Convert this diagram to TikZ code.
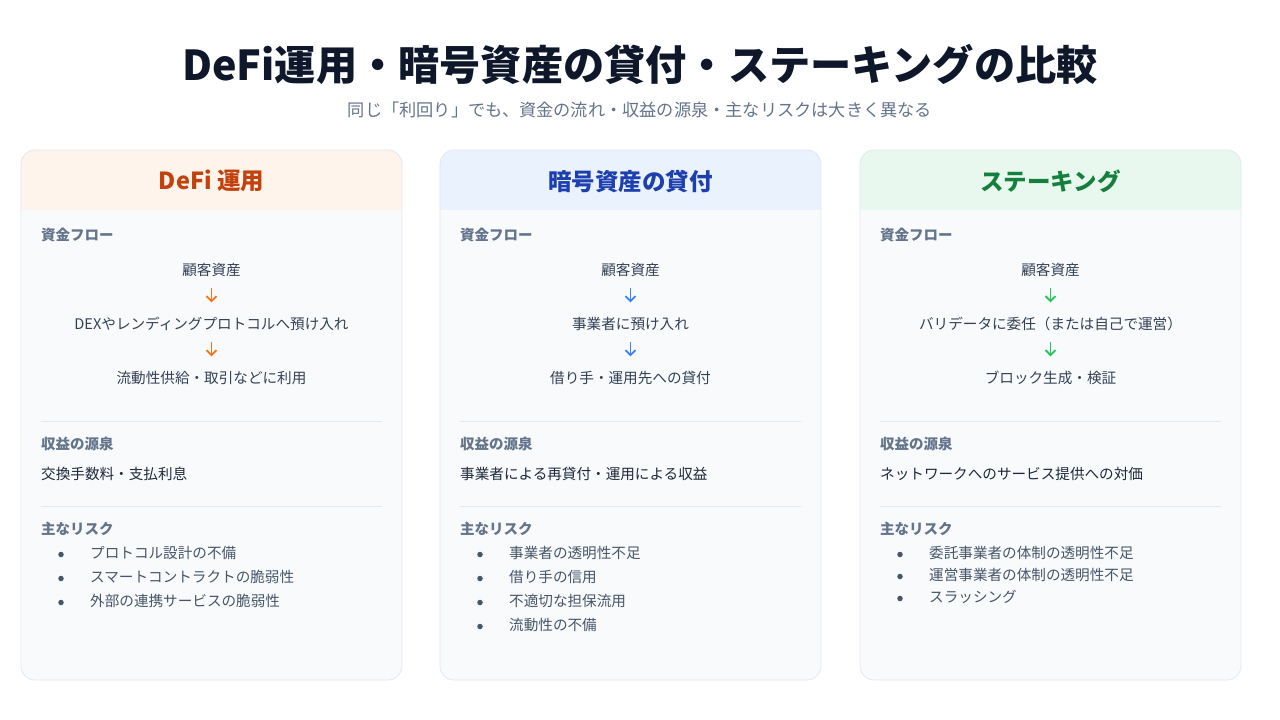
\documentclass[tikz,border=0pt]{standalone}
\usepackage{fontspec}
\setmainfont{Noto Sans CJK JP}
\usetikzlibrary{arrows.meta}
\definecolor{titlec}{HTML}{0F172A}
\definecolor{subc}{HTML}{64748B}
\definecolor{labelc}{HTML}{64748B}
\definecolor{flowc}{HTML}{334155}
\definecolor{revc}{HTML}{1E293B}
\definecolor{riskc}{HTML}{475569}
\definecolor{cardfill}{HTML}{F8FAFC}
\definecolor{cardline}{HTML}{E2E8F0}
\definecolor{headO}{HTML}{FFF4EB}
\definecolor{headB}{HTML}{EAF2FD}
\definecolor{headG}{HTML}{E9F8EE}
\definecolor{titO}{HTML}{C2410C}
\definecolor{titB}{HTML}{1E40AF}
\definecolor{titG}{HTML}{15803D}
\definecolor{arrO}{HTML}{F97316}
\definecolor{arrB}{HTML}{3B82F6}
\definecolor{arrG}{HTML}{22C55E}
\tikzset{
  cardbox/.style={draw=cardline, line width=0.8pt, rounded corners=14pt},
  sepline/.style={draw=cardline, line width=0.8pt},
  headtitle/.style={anchor=center, inner sep=0, yshift=-1pt, font=\fontsize{23.5}{28}\selectfont\bfseries},
  seclabel/.style={anchor=west, inner sep=0, yshift=-1.5pt, text=labelc, font=\fontsize{14.5}{17}\selectfont\bfseries, text height=11pt, text depth=3pt},
  flowtext/.style={anchor=center, inner sep=0, yshift=-1.5pt, text=flowc, font=\fontsize{14.6}{17}\selectfont, text height=11pt, text depth=3pt},
  revtext/.style={anchor=west, inner sep=0, yshift=-1.5pt, text=revc, font=\fontsize{14.6}{17}\selectfont, text height=11pt, text depth=3pt},
  risktext/.style={anchor=west, inner sep=0, yshift=-1.5pt, text=riskc, font=\fontsize{14.6}{17}\selectfont, text height=11pt, text depth=3pt},
  bulletdot/.style={circle, fill=riskc, inner sep=0, minimum size=5.5pt},
  flowarrow/.style={-{Straight Barb[length=5pt,width=10pt]}, line width=1.8pt, shorten <=9pt, shorten >=16pt},
}
% #1 prefix, #2 x0, #3 head fill, #4 title colour, #5 arrow colour, #6 title,
% #7 flow1, #8 flow2, #9 flow3
\newcommand\mkcard[9]{%
  \begin{scope}
    \clip[rounded corners=14pt] (#2,150) rectangle ++(381,530);
    \fill[cardfill] (#2,150) rectangle ++(381,530);
    \fill[#3] (#2,150) rectangle ++(381,60);
  \end{scope}
  \draw[cardbox] (#2,150) rectangle ++(381,530);
  \node[headtitle, text=#4] (#1head) at (#2+190.5,180) {#6};
  \node[seclabel] (#1lab1) at (#2+20,235) {資金フロー};
  \node[flowtext] (#1f1) at (#2+190.5,270) {#7};
  \node[flowtext] (#1f2) at (#2+190.5,324) {#8};
  \node[flowtext] (#1f3) at (#2+190.5,378) {#9};
  \draw[flowarrow, draw=#5] (#1f1) -- (#1f2);
  \draw[flowarrow, draw=#5] (#1f2) -- (#1f3);
  \draw[sepline] (#2+20,421) -- (#2+361,421);
  \node[seclabel] (#1lab2) at (#2+20,444) {収益の源泉};
  \draw[sepline] (#2+20,506) -- (#2+361,506);
  \node[seclabel] (#1lab3) at (#2+20,529) {主なリスク};
}
% #1 prefix, #2 x0, #3 y, #4 index, #5 text
\newcommand\mkrisk[5]{%
  \node[bulletdot] (#1b#4) at (#2+40,#3+1.5) {};
  \node[risktext] (#1r#4) at (#2+69,#3) {#5};
}
\begin{document}
\begin{tikzpicture}[x=1pt,y=-1pt]
  \useasboundingbox (0,0) rectangle (1280,720);
  \fill[white] (0,0) rectangle (1280,720);
  \node[anchor=center, inner sep=0, text=titlec, font=\fontsize{41.2}{48}\selectfont\bfseries] (title) at (640,64) {DeFi運用・暗号資産の貸付・ステーキングの比較};
  \node[anchor=center, inner sep=0, text=subc, font=\fontsize{17.2}{20}\selectfont] (subtitle) at (640,110) {同じ「利回り」でも、資金の流れ・収益の源泉・主なリスクは大きく異なる};

  % Card 1
  \mkcard{a}{21}{headO}{titO}{arrO}{DeFi 運用}{顧客資産}{DEXやレンディングプロトコルへ預け入れ}{流動性供給・取引などに利用}
  \node[revtext] (arev) at (41,474) {交換手数料・支払利息};
  \mkrisk{a}{21}{553}{1}{プロトコル設計の不備}
  \mkrisk{a}{21}{577}{2}{スマートコントラクトの脆弱性}
  \mkrisk{a}{21}{601}{3}{外部の連携サービスの脆弱性}

  % Card 2
  \mkcard{b}{440}{headB}{titB}{arrB}{暗号資産の貸付}{顧客資産}{事業者に預け入れ}{借り手・運用先への貸付}
  \node[revtext] (brev) at (460,474) {事業者による再貸付・運用による収益};
  \mkrisk{b}{440}{553}{1}{事業者の透明性不足}
  \mkrisk{b}{440}{577}{2}{借り手の信用}
  \mkrisk{b}{440}{601}{3}{不適切な担保流用}
  \mkrisk{b}{440}{625}{4}{流動性の不備}

  % Card 3
  \mkcard{c}{860}{headG}{titG}{arrG}{ステーキング}{顧客資産}{バリデータに委任（または自己で運営）}{ブロック生成・検証}
  \node[revtext] (crev) at (880,474) {ネットワークへのサービス提供への対価};
  \mkrisk{c}{860}{553}{1}{委託事業者の体制の透明性不足}
  \mkrisk{c}{860}{575}{2}{運営事業者の体制の透明性不足}
  \mkrisk{c}{860}{597}{3}{スラッシング}
\end{tikzpicture}
\end{document}
